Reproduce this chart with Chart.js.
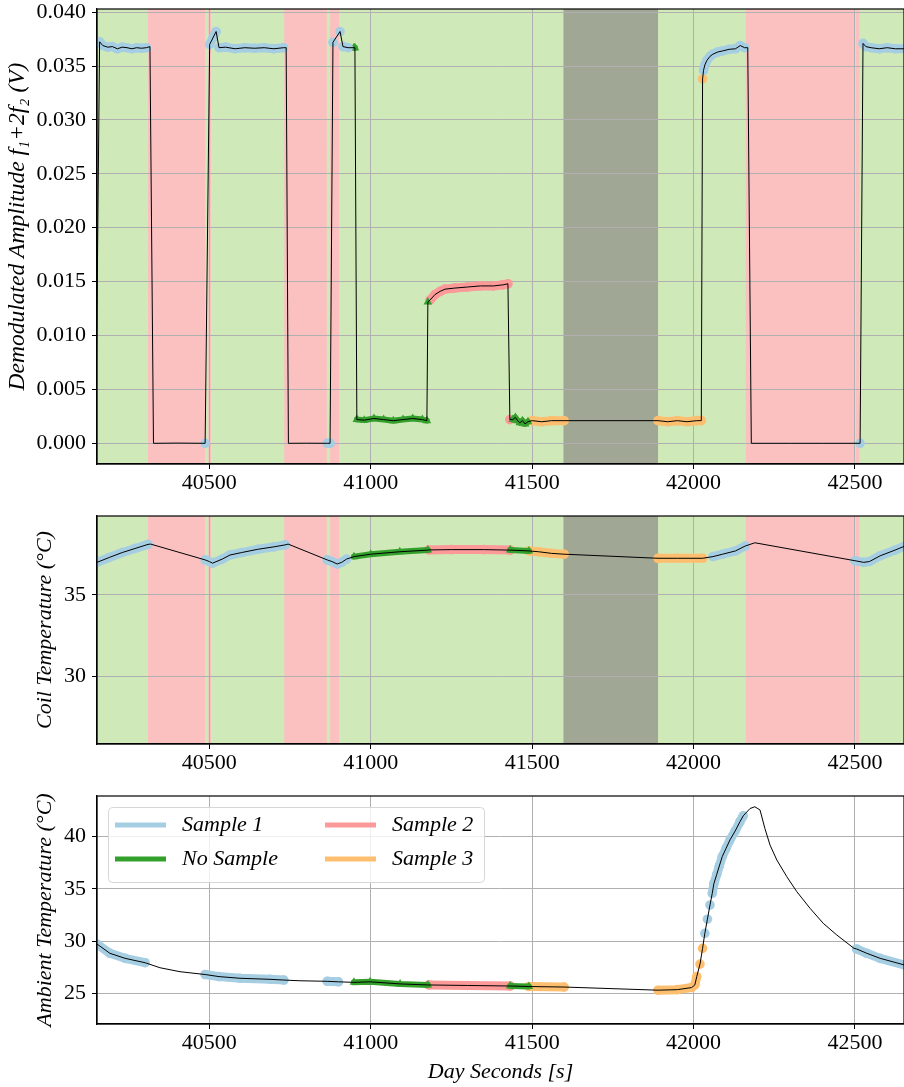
<!DOCTYPE html>
<html>
<head>
<meta charset="utf-8">
<script src="https://cdn.jsdelivr.net/npm/chart.js@4.4.0/dist/chart.umd.min.js"></script>
<style>
body { margin: 0; background: #fff; }
#wrap { position: relative; width: 904px; height: 1087px; }
canvas { position: absolute; left: 0; }
</style>
</head>
<body>
<div id="wrap">
  <canvas id="graficoAmp" width="904" height="500" style="top:0px"></canvas>
  <canvas id="graficoCoil" width="904" height="280" style="top:500px"></canvas>
  <canvas id="graficoAmb" width="904" height="307" style="top:780px"></canvas>
</div>
<script>
// --- dados ---
var tAmp = [40148, 40160, 40170, 40185, 40200, 40215, 40230, 40245, 40260, 40275, 40290, 40305, 40316, 40327, 40400,
  40487, 40501, 40511, 40521, 40530, 40550, 40580, 40610, 40640, 40670, 40700, 40730, 40738, 40745, 40800,
  40865, 40874, 40883, 40905, 40914, 40930, 40948, 40951, 40957, 40980, 41010, 41040, 41070, 41100, 41130,
  41160, 41174, 41177, 41184, 41199, 41215, 41230, 41260, 41300, 41340, 41380, 41410, 41425, 41431, 41440,
  41448, 41455, 41462, 41470, 41478, 41487, 41500, 41530, 41560, 41599, 41890, 41920, 41950, 41980, 42010,
  42024, 42028, 42031, 42035, 42041, 42051, 42060, 42075, 42090, 42110, 42130, 42145, 42158, 42168, 42179,
  42300, 42400, 42516, 42525, 42534, 42550, 42575, 42600, 42625, 42655];
var amp = [0.0, 0.03725, 0.0369, 0.03675, 0.0368, 0.0366, 0.03675, 0.0367, 0.0366, 0.0367, 0.03665, 0.0367, 0.0368, 0.0, 0.00002,
  0.0, 0.0370, 0.0376, 0.0382, 0.0367, 0.03675, 0.0366, 0.0367, 0.03665, 0.0367, 0.0366, 0.0367, 0.0367, 0.0, 0.00001,
  0.0, 0.0, 0.0372, 0.0382, 0.0368, 0.0367, 0.0367, 0.0367, 0.0022, 0.00215, 0.0023, 0.0022, 0.0021, 0.0022, 0.0023,
  0.0022, 0.0021, 0.0131, 0.0133, 0.0138, 0.0141, 0.0143, 0.0144, 0.0145, 0.0146, 0.0146, 0.0147, 0.0148, 0.0022, 0.0022,
  0.0024, 0.0021, 0.0019, 0.0021, 0.0018, 0.0020, 0.0021, 0.0020, 0.0021, 0.0021, 0.0021, 0.0020, 0.0021, 0.0020, 0.0021,
  0.0021, 0.0338, 0.0346, 0.0351, 0.0355, 0.0359, 0.0361, 0.0363, 0.0364, 0.03655, 0.0366, 0.0369, 0.0367, 0.0367, 0.0,
  0.0, 0.0, 0.0, 0.0371, 0.0368, 0.0367, 0.0366, 0.0367, 0.0366, 0.0366];

var tCoil = [40152, 40190, 40230, 40270, 40310, 40318, 40487, 40500, 40510, 40540, 40564, 40600, 40650, 40700, 40735, 40744,
  40865, 40880, 40896, 40910, 40925, 40948, 41000, 41090, 41177, 41180, 41250, 41350, 41432, 41490, 41520, 41560, 41599,
  41890, 41950, 42028, 42060, 42090, 42130, 42160, 42190, 42500, 42527, 42545, 42578, 42624, 42655];
var coil = [37.0, 37.3, 37.6, 37.85, 38.1, 38.12, 37.15, 37.05, 36.95, 37.2, 37.45, 37.6, 37.8, 37.95, 38.07, 38.12,
  37.15, 37.05, 36.9, 37.0, 37.2, 37.35, 37.5, 37.65, 37.75, 37.76, 37.78, 37.78, 37.75, 37.7, 37.65, 37.55, 37.5,
  37.25, 37.25, 37.25, 37.35, 37.5, 37.7, 38.0, 38.2, 37.1, 37.0, 37.05, 37.4, 37.75, 38.0];

var tAmb = [40152, 40192, 40239, 40301, 40347, 40409, 40487, 40530, 40595, 40688, 40731, 40781, 40865, 40900, 40948, 40998,
  41091, 41177, 41180, 41300, 41432, 41490, 41599, 41890, 41950, 41994, 42004, 42010, 42020, 42028, 42035, 42043,
  42051, 42058, 42063, 42072, 42080, 42089, 42101, 42113, 42129, 42144, 42154, 42175, 42190, 42206, 42221, 42237,
  42258, 42289, 42320, 42361, 42402, 42444, 42497, 42505, 42537, 42578, 42655];
var amb = [29.72, 28.83, 28.35, 27.93, 27.45, 27.07, 26.8, 26.6, 26.44, 26.34, 26.27, 26.2, 26.15, 26.1, 26.05, 26.1,
  25.9, 25.8, 25.8, 25.75, 25.7, 25.65, 25.6, 25.3, 25.35, 25.55, 25.8, 26.6, 27.8, 29.3, 30.75, 32.1,
  33.46, 34.58, 35.5, 36.4, 37.2, 38.1, 38.9, 39.7, 40.55, 41.45, 42.0, 42.7, 42.87, 42.56, 40.8, 39.2,
  37.77, 36.17, 34.73, 33.14, 31.7, 30.58, 29.31, 29.25, 28.83, 28.35, 27.7];

// amostras (intervalos de tempo em que cada amostra estava presente)
var nomesAmostra = ['Sample 1', 'No Sample', 'Sample 2', 'Sample 3'];
var coresAmostra = ['#a6cee3', '#33a02c', '#fb9a99', '#fdbf6f'];
var sample1Ranges = [[40150, 40312], [40485, 40735], [40862, 40945], [42029.5, 42160], [42498, 42660]];
var noSampleRanges = [[40945, 41177.5], [41432, 41490]];
var sample2Ranges = [[41177.5, 41432]];
var sample3Ranges = [[41490, 41600], [41885, 42029.5]];
var faixasAmostra = [sample1Ranges, noSampleRanges, sample2Ranges, sample3Ranges];

// faixas de fundo
var faixasVermelhas = [[40310, 40487], [40497, 40505], [40732, 40864], [40874, 40902], [42162, 42497], [42503, 42514]];
var faixasCinza = [[41597, 41890]];

var xTicks = [40500, 41000, 41500, 42000, 42500];

Chart.defaults.font.family = '"Liberation Serif", "Times New Roman", serif';
Chart.defaults.font.size = 22;
Chart.defaults.color = '#000';

var fundo = {
  id: 'fundo',
  beforeDraw: function (chart, args, opts) {
    if (!opts.bandas) return;
    var ctx = chart.ctx, a = chart.chartArea, x = chart.scales.x;
    ctx.save();
    ctx.fillStyle = '#d0e9b9';
    ctx.fillRect(a.left, a.top, a.right - a.left, a.bottom - a.top);
    function pinta(lista, cor) {
      ctx.fillStyle = cor;
      lista.forEach(function (f) {
        var x0 = Math.max(a.left, x.getPixelForValue(f[0]));
        var x1 = Math.min(a.right, x.getPixelForValue(f[1]));
        ctx.fillRect(x0, a.top, x1 - x0, a.bottom - a.top);
      });
    }
    pinta(faixasVermelhas, '#fbc1c0');
    pinta(faixasCinza, '#a1a795');
    ctx.restore();
  },
  afterDraw: function (chart) {
    var ctx = chart.ctx, a = chart.chartArea;
    ctx.save();
    ctx.strokeStyle = '#000';
    ctx.lineWidth = 1.2;
    ctx.strokeRect(a.left, a.top, a.right - a.left, a.bottom - a.top);
    ctx.restore();
  }
};

var tituloY = {
  id: 'tituloY',
  afterDraw: function (chart, args, opts) {
    var ctx = chart.ctx, a = chart.chartArea;
    ctx.save();
    ctx.translate(opts.x, (a.top + a.bottom) / 2 + (opts.dy || 0));
    ctx.rotate(-Math.PI / 2);
    ctx.font = 'italic ' + (opts.size || 22) + 'px "Liberation Serif", serif';
    ctx.fillStyle = '#000';
    ctx.textAlign = 'center';
    ctx.textBaseline = 'middle';
    ctx.fillText(opts.text, 0, 0);
    ctx.restore();
  }
};

var legenda = {
  id: 'legenda',
  afterDraw: function (chart, args, opts) {
    if (!opts.show) return;
    var ctx = chart.ctx, a = chart.chartArea;
    var bx = a.left + 11.5, by = a.top + 11.5;
    ctx.save();
    ctx.beginPath();
    ctx.roundRect(bx, by, 376, 75, 4);
    ctx.fillStyle = 'rgba(255,255,255,0.8)';
    ctx.fill();
    ctx.strokeStyle = '#d6d6d6';
    ctx.lineWidth = 1;
    ctx.stroke();
    ctx.font = 'italic 22px "Liberation Serif", serif';
    ctx.textBaseline = 'middle';
    ctx.fillStyle = '#000';
    nomesAmostra.forEach(function (nome, i) {
      var col = Math.floor(i / 2), row = i % 2;
      var hx = bx + 6.5 + col * 210, hy = by + 17.5 + row * 34;
      ctx.strokeStyle = coresAmostra[i];
      ctx.lineWidth = 5;
      ctx.beginPath();
      ctx.moveTo(hx, hy);
      ctx.lineTo(hx + 51, hy);
      ctx.stroke();
      ctx.fillText(nome, hx + 67, hy);
    });
    ctx.restore();
  }
};

function pontosNaFaixa(tempos, valores, faixas) {
  var out = [];
  faixas.forEach(function (f) {
    for (var i = 0; i < tempos.length; i++) {
      if (tempos[i] >= f[0] && tempos[i] <= f[1]) out.push({ x: tempos[i], y: valores[i] });
    }
    out.push({ x: f[1], y: null });
  });
  return out;
}

function conjuntos(tempos, valores) {
  var ds = [{
    label: 'dados',
    data: tempos.map(function (t, i) { return { x: t, y: valores[i] }; }),
    borderColor: '#000',
    borderWidth: 1,
    pointRadius: 0,
    fill: false
  }];
  nomesAmostra.forEach(function (nome, k) {
    var cor = coresAmostra[k];
    var tri = (k === 1);
    ds.push({
      label: nome,
      data: pontosNaFaixa(tempos, valores, faixasAmostra[k]),
      borderColor: cor,
      backgroundColor: cor,
      pointBackgroundColor: cor,
      borderWidth: tri ? 6 : 9,
      pointRadius: tri ? 5 : 4.8,
      pointStyle: tri ? 'triangle' : 'circle',
      pointBorderWidth: 0,
      borderCapStyle: 'round',
      borderJoinStyle: 'round',
      spanGaps: false,
      fill: false,
      segment: {
        borderColor: function (ctx) {
          return Math.abs(ctx.p1.y - ctx.p0.y) > 10 ? 'rgba(0,0,0,0)' : cor;
        }
      }
    });
  });
  return ds;
}

function opcoes(cfg) {
  return {
    responsive: false,
    animation: false,
    events: [],
    layout: { autoPadding: false, padding: { top: cfg.padTop, left: cfg.padLeft, right: 0, bottom: 0 } },
    plugins: {
      legend: { display: false },
      tooltip: { enabled: false },
      fundo: { bandas: cfg.bandas },
      tituloY: { text: cfg.tituloY, x: cfg.tituloYx, dy: cfg.tituloYdy, size: cfg.tituloYsize },
      legenda: { show: !!cfg.legenda }
    },
    scales: {
      x: {
        type: 'linear',
        min: 40152,
        max: 42652,
        afterFit: function (s) { s.height = cfg.alturaX; s.paddingLeft = 0; s.paddingRight = 0; },
        afterBuildTicks: function (s) { s.ticks = xTicks.map(function (v) { return { value: v }; }); },
        ticks: { padding: 1, maxRotation: 0, callback: function (v) { return String(v); } },
        grid: { color: '#b0b0b0', lineWidth: 1, tickColor: '#000', tickLength: 5 },
        border: { color: '#000', width: 1.2 },
        title: {
          display: !!cfg.tituloX,
          text: cfg.tituloX || '',
          padding: { top: 0, bottom: 2 },
          font: { style: 'italic', size: 22 }
        }
      },
      y: {
        type: 'linear',
        min: cfg.ymin,
        max: cfg.ymax,
        afterFit: function (s) { s.width = 97 - cfg.padLeft; s.paddingTop = 0; s.paddingBottom = 0; },
        afterBuildTicks: function (s) { s.ticks = cfg.yTicks.map(function (v) { return { value: v }; }); },
        ticks: { padding: 6, callback: function (v) { return v.toFixed(cfg.casas); } },
        grid: { color: '#b0b0b0', lineWidth: 1, tickColor: '#000', tickLength: 5 },
        border: { color: '#000', width: 1.2 }
      }
    }
  };
}

new Chart(document.getElementById('graficoAmp').getContext('2d'), {
  type: 'line',
  data: { datasets: conjuntos(tAmp, amp) },
  options: opcoes({
    padTop: 9, padLeft: 5, alturaX: 36, bandas: true,
    ymin: -0.00192, ymax: 0.04029, casas: 3,
    yTicks: [0, 0.005, 0.01, 0.015, 0.02, 0.025, 0.03, 0.035, 0.04],
    tituloY: 'Demodulated Amplitude f\u2081+2f\u2082 (V)', tituloYx: 18, tituloYdy: -10, tituloYsize: 23.5
  }),
  plugins: [fundo, tituloY, legenda]
});

new Chart(document.getElementById('graficoCoil').getContext('2d'), {
  type: 'line',
  data: { datasets: conjuntos(tCoil, coil) },
  options: opcoes({
    padTop: 16, padLeft: 32, alturaX: 36, bandas: true,
    ymin: 25.87, ymax: 39.84, casas: 0,
    yTicks: [30, 35],
    tituloY: 'Coil Temperature (\u00b0C)', tituloYx: 45.5, tituloYdy: 0
  }),
  plugins: [fundo, tituloY, legenda]
});

new Chart(document.getElementById('graficoAmb').getContext('2d'), {
  type: 'line',
  data: { datasets: conjuntos(tAmb, amb) },
  options: opcoes({
    padTop: 16, padLeft: 32, alturaX: 63, bandas: false,
    ymin: 22.06, ymax: 43.9, casas: 0,
    yTicks: [25, 30, 35, 40],
    tituloY: 'Ambient Temperature (\u00b0C)', tituloYx: 45.5, tituloYdy: 0,
    tituloX: 'Day Seconds [s]',
    legenda: true
  }),
  plugins: [fundo, tituloY, legenda]
});
</script>
</body>
</html>
